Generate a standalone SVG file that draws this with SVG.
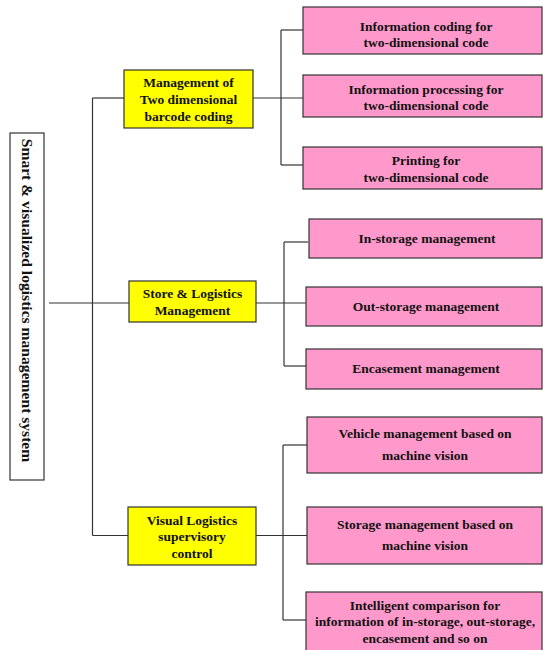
<svg xmlns="http://www.w3.org/2000/svg" width="543" height="650" viewBox="0 0 543 650">
  <style>
    .root { fill: #ffffff; stroke: #333333; stroke-width: 1.2; }
    .mid { fill: #ffff00; stroke: #333333; stroke-width: 1.2; }
    .leaf { fill: #ff99cc; stroke: #333333; stroke-width: 1.2; }
    .lbl { font-family: "Liberation Serif", "Times New Roman", serif; font-weight: bold; font-size: 13.5px; fill: #111111; text-anchor: middle; }
    .title { font-family: "Liberation Serif", "Times New Roman", serif; font-weight: bold; font-size: 15.6px; fill: #111111; text-anchor: middle; }
    .wire { fill: none; stroke: #333333; stroke-width: 1.2; }
  </style>
  <rect width="543" height="650" fill="#ffffff"/>

  <!-- connectors -->
  <g id="connectors" class="wire">
    <!-- root to trunk -->
    <path d="M49 303 H129"/>
    <path d="M92.5 98 V535.5"/>
    <path d="M92.5 98 H124"/>
    <path d="M92.5 535.5 H128"/>
    <!-- barcode branch -->
    <path d="M253 98 H303"/>
    <path d="M281 30 V165"/>
    <path d="M281 30 H303"/>
    <path d="M281 165 H303"/>
    <!-- store branch -->
    <path d="M256 303 H306"/>
    <path d="M284 242 V366"/>
    <path d="M284 242 H308"/>
    <path d="M284 366 H306"/>
    <!-- visual branch -->
    <path d="M256 535.5 H307"/>
    <path d="M283 445 V620"/>
    <path d="M283 445 H307"/>
    <path d="M283 620 H306"/>
  </g>

  <!-- root -->
  <g id="root">
    <rect class="root" x="10" y="133" width="34" height="347"/>
    <text class="title" transform="translate(22 300.5) rotate(90)">Smart &amp; visualized logistics management system</text>
  </g>

  <!-- second level -->
  <g id="barcode">
    <rect class="mid" x="124" y="70" width="129" height="58"/>
    <text class="lbl" x="188.5" y="86.5">Management of</text>
    <text class="lbl" x="188.5" y="103.5">Two dimensional</text>
    <text class="lbl" x="188.5" y="121">barcode coding</text>
  </g>
  <g id="store">
    <rect class="mid" x="129" y="281" width="127" height="41"/>
    <text class="lbl" x="192.5" y="297.5">Store &amp; Logistics</text>
    <text class="lbl" x="192.5" y="314.5">Management</text>
  </g>
  <g id="visual">
    <rect class="mid" x="128" y="507" width="128" height="58"/>
    <text class="lbl" x="192" y="524.5">Visual Logistics</text>
    <text class="lbl" x="192" y="541">supervisory</text>
    <text class="lbl" x="192" y="557.5">control</text>
  </g>

  <!-- leaves: barcode -->
  <g id="coding">
    <rect class="leaf" x="303" y="7" width="239" height="47"/>
    <text class="lbl" x="426" y="30.5">Information coding for</text>
    <text class="lbl" x="426" y="47">two-dimensional code</text>
  </g>
  <g id="processing">
    <rect class="leaf" x="303" y="75" width="239" height="42"/>
    <text class="lbl" x="426" y="93.5">Information processing for</text>
    <text class="lbl" x="426" y="110">two-dimensional code</text>
  </g>
  <g id="printing">
    <rect class="leaf" x="303" y="147" width="239" height="42"/>
    <text class="lbl" x="426" y="165">Printing for</text>
    <text class="lbl" x="426" y="181.5">two-dimensional code</text>
  </g>

  <!-- leaves: store -->
  <g id="in-storage">
    <rect class="leaf" x="309" y="219" width="233" height="39"/>
    <text class="lbl" x="427" y="242.5">In-storage management</text>
  </g>
  <g id="out-storage">
    <rect class="leaf" x="306" y="287" width="236" height="39"/>
    <text class="lbl" x="426" y="311">Out-storage management</text>
  </g>
  <g id="encasement">
    <rect class="leaf" x="306" y="349" width="236" height="40"/>
    <text class="lbl" x="426" y="372.5">Encasement management</text>
  </g>

  <!-- leaves: visual -->
  <g id="vehicle">
    <rect class="leaf" x="307" y="417" width="235" height="56"/>
    <text class="lbl" x="425" y="437.5">Vehicle management based on</text>
    <text class="lbl" x="425" y="459.5">machine vision</text>
  </g>
  <g id="storage-vision">
    <rect class="leaf" x="307" y="507" width="235" height="57"/>
    <text class="lbl" x="425" y="528.5">Storage management based on</text>
    <text class="lbl" x="425" y="550">machine vision</text>
  </g>
  <g id="comparison">
    <rect class="leaf" x="306" y="592" width="236" height="62"/>
    <text class="lbl" x="425" y="609.5">Intelligent comparison for</text>
    <text class="lbl" x="425" y="626">information of in-storage, out-storage,</text>
    <text class="lbl" x="425" y="642.5">encasement and so on</text>
  </g>
</svg>
